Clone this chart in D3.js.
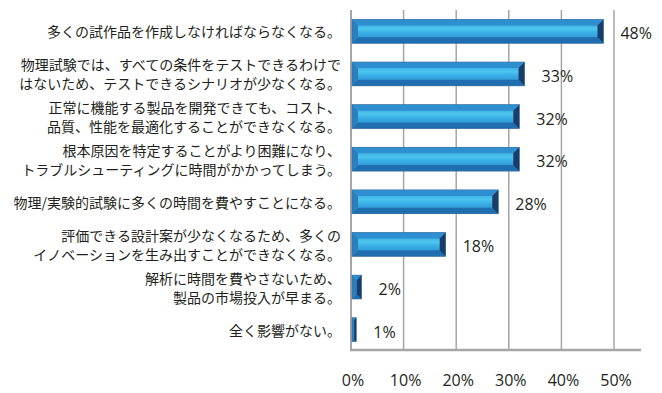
<!DOCTYPE html>
<html>
<head>
<meta charset="utf-8">
<script src="https://cdn.jsdelivr.net/npm/d3@7"></script>
<style>
  body { margin: 0; background: #fff; }
  svg { display: block; }
</style>
</head>
<body>
<div id="chart"></div>
<script>
// data
let categories = [
  '多くの試作品を作成しなければならなくなる。',
  '物理試験では、すべての条件をテストできるわけで\nはないため、テストできるシナリオが少なくなる。',
  '正常に機能する製品を開発できても、コスト、\n品質、性能を最適化することができなくなる。',
  '根本原因を特定することがより困難になり、\nトラブルシューティングに時間がかかってしまう。',
  '物理/実験的試験に多くの時間を費やすことになる。',
  '評価できる設計案が少なくなるため、多くの\nイノベーションを生み出すことができなくなる。',
  '解析に時間を費やさないため、\n製品の市場投入が早まる。',
  '全く影響がない。'
];
let values = [0.48, 0.33, 0.32, 0.32, 0.28, 0.18, 0.02, 0.01];
let ticks = [0, 0.1, 0.2, 0.3, 0.4, 0.5];

let W = 662, H = 393;
let plot = {left: 351, right: 614, top: 10, bottom: 350};

let svg = d3.select('#chart').append('svg')
            .attr('width', W)
            .attr('height', H);

let x = d3.scaleLinear().domain([0, 0.5]).range([plot.left, plot.right]);
let y = d3.scaleBand()
          .domain(categories)
          .range([plot.top, plot.bottom + 1])
          .paddingInner(0.44)
          .paddingOuter(0.22);

let fmt = d3.format('.0%');

// bar face gradient
let defs = svg.append('defs');
let grad = defs.append('linearGradient')
               .attr('id', 'face')
               .attr('x1', 0).attr('y1', 0).attr('x2', 0).attr('y2', 1);
grad.append('stop').attr('offset', '0%').attr('stop-color', '#2a93d4');
grad.append('stop').attr('offset', '40%').attr('stop-color', '#4cc6f0');
grad.append('stop').attr('offset', '55%').attr('stop-color', '#3bb0e6');
grad.append('stop').attr('offset', '100%').attr('stop-color', '#2384c8');

// gridlines
svg.append('g')
   .selectAll('line')
   .data(ticks.slice(1))
   .join('line')
   .attr('x1', d => x(d)).attr('x2', d => x(d))
   .attr('y1', plot.top).attr('y2', plot.bottom)
   .attr('stroke', '#a6a6a8')
   .attr('stroke-width', 1.5);

// axes lines
svg.append('line')
   .attr('x1', plot.left).attr('x2', plot.left)
   .attr('y1', plot.top).attr('y2', plot.bottom)
   .attr('stroke', '#a6a6a8').attr('stroke-width', 2);
svg.append('line')
   .attr('x1', plot.left - 1).attr('x2', 641)
   .attr('y1', plot.bottom).attr('y2', plot.bottom)
   .attr('stroke', '#a6a6a8').attr('stroke-width', 2.5);

// tick labels
svg.append('g')
   .selectAll('text')
   .data(ticks)
   .join('text')
   .attr('x', d => x(d) + 2)
   .attr('y', 380)
   .attr('text-anchor', 'middle')
   .attr('dominant-baseline', 'central')
   .style('font-family', '"Open Sans", "Noto Sans", sans-serif')
   .style('font-size', '16px')
   .style('fill', '#231f20')
   .text(d => fmt(d));

// beveled bars
let bars = svg.append('g')
              .selectAll('g')
              .data(values.map((v, i) => ({cat: categories[i], v: v})))
              .join('g');

bars.each(function(d) {
  let g = d3.select(this);
  let x0 = plot.left + 1, x1 = x(d.v);
  let y0 = y(d.cat), h = y.bandwidth(), y1 = y0 + h;
  let b = Math.min(6, (x1 - x0) / 2, h / 2);
  let pts = a => a.map(p => p.join(',')).join(' ');

  g.append('rect')
   .attr('x', x0).attr('y', y0)
   .attr('width', x1 - x0).attr('height', h)
   .attr('fill', 'url(#face)');
  // top bevel
  g.append('polygon')
   .attr('points', pts([[x0, y0], [x1, y0], [x1 - b, y0 + b], [x0 + b, y0 + b]]))
   .attr('fill', '#2d8fd0');
  // bottom bevel
  g.append('polygon')
   .attr('points', pts([[x0, y1], [x1, y1], [x1 - b, y1 - b], [x0 + b, y1 - b]]))
   .attr('fill', '#1f6fb0');
  // left bevel
  g.append('polygon')
   .attr('points', pts([[x0, y0], [x0 + b, y0 + b], [x0 + b, y1 - b], [x0, y1]]))
   .attr('fill', '#2a7fc0');
  // right end
  g.append('polygon')
   .attr('points', pts([[x1, y0], [x1 - b, y0 + b], [x1 - b, y1 - b], [x1, y1]]))
   .attr('fill', '#1b3b68');
  g.append('rect')
   .attr('x', x0).attr('y', y0)
   .attr('width', x1 - x0).attr('height', h)
   .attr('fill', 'none')
   .attr('stroke', '#3a6d99')
   .attr('stroke-width', 0.6);
});

// value labels
svg.append('g')
   .selectAll('text')
   .data(values.map((v, i) => ({cat: categories[i], v: v})))
   .join('text')
   .attr('x', d => x(d.v) + 17)
   .attr('y', d => y(d.cat) + y.bandwidth() / 2 + 2)
   .attr('dominant-baseline', 'central')
   .style('font-family', '"Open Sans", "Noto Sans", sans-serif')
   .style('font-size', '16px')
   .style('fill', '#231f20')
   .text(d => fmt(d.v));

// category labels
let labels = svg.append('g')
                .selectAll('text')
                .data(categories)
                .join('text')
                .attr('text-anchor', 'end')
                .style('font-family', '"Noto Sans CJK JP", sans-serif')
                .style('font-size', '14px')
                .style('fill', '#231f20');

labels.each(function(d) {
  let lines = d.split('\n');
  let c = y(d) + y.bandwidth() / 2;
  let lh = 19;
  d3.select(this).selectAll('tspan')
    .data(lines)
    .join('tspan')
    .attr('x', 341)
    .attr('y', (l, i) => c + (i - (lines.length - 1) / 2) * lh)
    .attr('dominant-baseline', 'central')
    .text(l => l);
});
</script>
</body>
</html>
